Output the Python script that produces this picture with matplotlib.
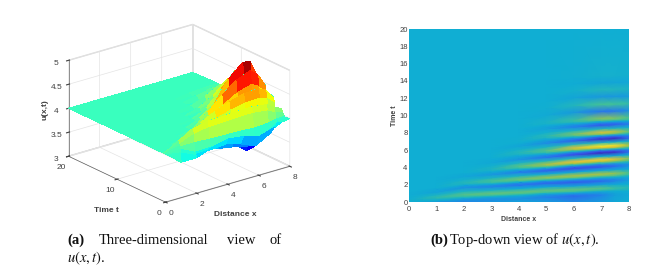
import numpy as np
import matplotlib
matplotlib.use('Agg')
import matplotlib.pyplot as plt
from matplotlib.colors import LinearSegmentedColormap

plt.rcParams['font.family'] = ['Liberation Sans', 'DejaVu Sans']
plt.rcParams['mathtext.fontset'] = 'stix'

x = [0, 1, 2, 3, 4, 5, 6, 7, 7.5, 8]

# mesh lines that follow the ridges (R), troughs (T) and their flanks (f, g, h)
# t_* is the time of the line at each x, u_* is u - 4 on that line
t_bot = [0, 0, 0, 0, 0, 0, 0, 0, 0, 0]
u_bot = [0, -.26, -.26, -.14, -.06, -.10, -.20, -.10, -.03, 0]
t_T0 = [.1, .15, .2, .3, .4, .6, .7, .85, .88, .9]
u_T0 = [0, -.05, -.20, -.20, -.18, -.28, -.42, -.26, -.08, -.03]
t_g1 = [.16, .26, .38, .49, .6, .8, .9, 1.05, 1.08, 1.1]
u_g1 = [0, .02, -.14, -.14, -.12, -.20, -.30, -.17, -.05, -.01]
t_f0 = [.22, .38, .55, .68, .8, 1.0, 1.1, 1.25, 1.29, 1.3]
u_f0 = [0, .06, .05, .02, 0, -.02, -.05, -.04, -.01, 0]
t_h1 = [.28, .49, .72, .86, 1.0, 1.2, 1.3, 1.45, 1.48, 1.5]
u_h1 = [0, .11, .21, .25, .25, .25, .25, .20, .12, .07]
t_R1 = [.35, .6, .9, 1.05, 1.2, 1.4, 1.5, 1.65, 1.68, 1.7]
u_R1 = [0, .15, .30, .35, .35, .35, .35, .30, .20, .12]
t_f1 = [.62, .9, 1.3, 1.42, 1.6, 1.8, 1.9, 2.05, 2.09, 2.12]
u_f1 = [0, .05, .07, .05, 0, -.03, -.07, -.06, -.03, 0]
t_T1 = [.9, 1.2, 1.7, 1.8, 2.0, 2.2, 2.3, 2.45, 2.5, 2.55]
u_T1 = [0, -.06, -.17, -.25, -.35, -.42, -.50, -.40, -.28, -.10]
t_g2 = [1.05, 1.38, 1.85, 1.98, 2.18, 2.38, 2.5, 2.66, 2.72, 2.78]
u_g2 = [0, -.04, -.12, -.18, -.25, -.30, -.35, -.28, -.20, -.07]
t_f2 = [1.2, 1.55, 2.0, 2.15, 2.35, 2.55, 2.7, 2.88, 2.93, 3.0]
u_f2 = [0, -.03, -.03, 0, .02, .03, .03, .03, .02, .02]
t_h2 = [1.35, 1.72, 2.15, 2.32, 2.52, 2.72, 2.9, 3.09, 3.15, 3.22]
u_h2 = [0, 0, .07, .18, .27, .34, .39, .39, .34, .20]
t_R2 = [1.5, 1.9, 2.3, 2.5, 2.7, 2.9, 3.1, 3.3, 3.38, 3.45]
u_R2 = [0, 0, .10, .25, .38, .48, .55, .55, .48, .28]
t_f3 = [1.8, 2.25, 2.65, 2.85, 3.08, 3.28, 3.5, 3.7, 3.78, 3.85]
u_f3 = [0, 0, .03, .06, .05, .02, -.02, -.02, -.02, -.02]
t_T2 = [2.1, 2.6, 3.0, 3.2, 3.45, 3.65, 3.9, 4.1, 4.18, 4.25]
u_T2 = [0, 0, -.04, -.12, -.28, -.45, -.60, -.55, -.40, -.20]
t_g3 = [2.25, 2.78, 3.15, 3.38, 3.63, 3.83, 4.1, 4.31, 4.39, 4.46]
u_g3 = [0, 0, -.03, -.08, -.20, -.32, -.42, -.39, -.28, -.14]
t_f4 = [2.4, 2.95, 3.3, 3.55, 3.82, 4.02, 4.3, 4.52, 4.6, 4.68]
u_f4 = [0, 0, -.02, -.02, .01, .05, .08, .12, .10, .07]
t_h3 = [2.55, 3.12, 3.45, 3.72, 4.0, 4.2, 4.5, 4.73, 4.81, 4.88]
u_h3 = [0, 0, 0, .05, .21, .39, .53, .60, .51, .32]
t_R3 = [2.7, 3.3, 3.6, 3.9, 4.2, 4.4, 4.7, 4.95, 5.03, 5.1]
u_R3 = [0, 0, 0, .07, .30, .55, .75, .85, .72, .45]
t_f5 = [3.05, 3.6, 3.95, 4.25, 4.58, 4.8, 5.1, 5.32, 5.4, 5.48]
u_f5 = [0, 0, 0, .02, .07, .10, .08, 0, -.05, 0]
t_T3 = [3.4, 3.9, 4.3, 4.6, 4.95, 5.2, 5.5, 5.7, 5.78, 5.85]
u_T3 = [0, 0, 0, -.03, -.15, -.35, -.60, -.85, -.82, -.45]
t_g4 = [3.55, 4.05, 4.48, 4.8, 5.16, 5.4, 5.7, 5.9, 5.98, 6.05]
u_g4 = [0, 0, 0, -.02, -.10, -.25, -.42, -.60, -.58, -.32]
t_f6 = [3.7, 4.2, 4.65, 5.0, 5.38, 5.6, 5.9, 6.1, 6.18, 6.25]
u_f6 = [0, 0, 0, -.01, -.03, -.03, .05, .05, .05, .05]
t_h4 = [3.85, 4.35, 4.82, 5.2, 5.58, 5.8, 6.1, 6.3, 6.38, 6.45]
u_h4 = [0, 0, 0, 0, .07, .21, .50, .67, .65, .39]
t_R4 = [4.0, 4.5, 5.0, 5.4, 5.8, 6.0, 6.3, 6.5, 6.58, 6.65]
u_R4 = [0, 0, 0, 0, .10, .30, .70, .95, .92, .55]
t_f7 = [4.35, 4.85, 5.35, 5.75, 6.15, 6.42, 6.7, 6.9, 6.98, 7.05]
u_f7 = [0, 0, 0, 0, .03, .05, .12, .08, .04, .05]
t_T4 = [4.7, 5.2, 5.7, 6.1, 6.5, 6.85, 7.1, 7.3, 7.38, 7.45]
u_T4 = [0, 0, 0, 0, -.04, -.20, -.45, -.80, -.85, -.45]
t_g5 = [4.88, 5.38, 5.88, 6.3, 6.7, 7.06, 7.3, 7.5, 7.58, 7.65]
u_g5 = [0, 0, 0, 0, -.03, -.14, -.32, -.57, -.60, -.32]
t_f8 = [5.05, 5.55, 6.05, 6.5, 6.9, 7.28, 7.5, 7.7, 7.78, 7.85]
u_f8 = [0, 0, 0, 0, 0, -.04, -.03, -.05, -.12, -.05]
t_h5 = [5.22, 5.72, 6.22, 6.7, 7.1, 7.5, 7.7, 7.9, 7.98, 8.05]
u_h5 = [0, 0, 0, 0, .01, .08, .28, .50, .44, .25]
t_R5 = [5.4, 5.9, 6.4, 6.9, 7.3, 7.7, 7.9, 8.1, 8.18, 8.25]
u_R5 = [0, 0, 0, 0, .01, .12, .40, .70, .62, .35]
t_f9 = [5.8, 6.3, 6.8, 7.3, 7.7, 8.1, 8.3, 8.5, 8.58, 8.65]
u_f9 = [0, 0, 0, 0, 0, .02, .06, .09, .07, .03]
t_T5 = [6.2, 6.7, 7.2, 7.7, 8.1, 8.5, 8.7, 8.9, 8.98, 9.05]
u_T5 = [0, 0, 0, 0, 0, -.07, -.28, -.52, -.48, -.30]
t_g6 = [6.4, 6.9, 7.4, 7.9, 8.3, 8.7, 8.9, 9.1, 9.18, 9.23]
u_g6 = [0, 0, 0, 0, 0, -.05, -.20, -.37, -.34, -.21]
t_f10 = [6.6, 7.1, 7.6, 8.1, 8.5, 8.9, 9.1, 9.3, 9.38, 9.42]
u_f10 = [0, 0, 0, 0, 0, -.01, -.04, -.04, -.03, -.01]
t_h6 = [6.8, 7.3, 7.8, 8.3, 8.7, 9.1, 9.3, 9.5, 9.56, 9.6]
u_h6 = [0, 0, 0, 0, 0, .04, .14, .32, .30, .20]
t_R6 = [7.0, 7.5, 8.0, 8.5, 8.9, 9.3, 9.5, 9.7, 9.75, 9.8]
u_R6 = [0, 0, 0, 0, 0, .05, .20, .45, .42, .28]
t_T6 = [7.8, 8.3, 8.8, 9.3, 9.7, 10.1, 10.4, 10.5, 10.55, 10.6]
u_T6 = [0, 0, 0, 0, 0, -.02, -.13, -.35, -.33, -.20]
t_R7 = [8.6, 9.1, 9.6, 10.1, 10.5, 10.9, 11.2, 11.3, 11.35, 11.4]
u_R7 = [0, 0, 0, 0, 0, .01, .10, .25, .24, .18]
t_T7 = [9.4, 9.9, 10.4, 10.9, 11.3, 11.7, 12.1, 12.2, 12.23, 12.25]
u_T7 = [0, 0, 0, 0, 0, 0, -.05, -.14, -.14, -.11]
t_R8 = [10.2, 10.7, 11.2, 11.7, 12.1, 12.5, 12.9, 13.0, 13.05, 13.1]
u_R8 = [0, 0, 0, 0, 0, 0, .03, .10, .09, .07]
t_T8 = [11.0, 11.5, 12.0, 12.5, 12.9, 13.3, 13.7, 13.8, 13.85, 13.9]
u_T8 = [0, 0, 0, 0, 0, 0, -.01, -.05, -.05, -.04]
t_R9 = [11.8, 12.3, 12.8, 13.3, 13.7, 14.1, 14.5, 14.6, 14.65, 14.7]
u_R9 = [0, 0, 0, 0, 0, 0, .01, .03, .03, .02]
t_top = [20, 20, 20, 20, 20, 20, 20, 20, 20, 20]
u_top = [0, 0, 0, 0, 0, 0, 0, 0, 0, 0]

T = np.array([t_bot, t_T0, t_g1, t_f0, t_h1, t_R1, t_f1, t_T1, t_g2, t_f2, t_h2, t_R2, t_f3, t_T2, t_g3, t_f4, t_h3,
              t_R3, t_f5, t_T3, t_g4, t_f6, t_h4, t_R4, t_f7, t_T4, t_g5, t_f8, t_h5, t_R5, t_f9, t_T5, t_g6, t_f10,
              t_h6, t_R6, t_T6, t_R7, t_T7, t_R8, t_T8, t_R9, t_top])
U = 4 + np.array([u_bot, u_T0, u_g1, u_f0, u_h1, u_R1, u_f1, u_T1, u_g2, u_f2, u_h2, u_R2, u_f3, u_T2, u_g3, u_f4, u_h3,
                  u_R3, u_f5, u_T3, u_g4, u_f6, u_h4, u_R4, u_f7, u_T4, u_g5, u_f8, u_h5, u_R5, u_f9, u_T5, u_g6, u_f10,
                  u_h6, u_R6, u_T6, u_R7, u_T7, u_R8, u_T8, u_R9, u_top])
X = np.tile(x, (len(T), 1))

parula = LinearSegmentedColormap.from_list('parula', [
    (0.0, (0.20, 0.13, 0.60)), (0.15, (0.25, 0.25, 0.90)), (0.33, (0.15, 0.47, 0.93)),
    (0.5, (0.06, 0.68, 0.83)), (0.62, (0.25, 0.76, 0.60)), (0.78, (0.68, 0.77, 0.25)),
    (0.9, (0.98, 0.75, 0.20)), (1.0, (0.98, 0.96, 0.10))])

fig = plt.figure(figsize=(6.64, 2.71), dpi=100)
grey = '#404040'

# 3D view, each facet takes the colour of its far edge since that is the side facing the viewer
ax3 = fig.add_axes([0.02, 0.13, 0.49, 0.88], projection='3d', proj_type='ortho')
ax3.view_init(elev=21.7, azim=-128)
ax3.set_box_aspect((1, 1, 0.655), zoom=1.0)
far = U.copy()
far[:-1] = U[1:]
far[:, :-1] = (far[:, :-1] + far[:, 1:]) / 2
jet_colors = plt.get_cmap('jet')(np.interp(far, [3.0, 4.0, 5.0], [0.05, 0.42, 1.0]))
ax3.plot_surface(X, T, U, facecolors=jet_colors, rstride=1, cstride=1,
                 linewidth=0, antialiased=False, shade=False)
ax3.set_xlim(0, 8)
ax3.set_ylim(0, 20)
ax3.set_zlim(3, 5)
ax3.set_xticks([0, 2, 4, 6, 8])
ax3.set_yticks([0, 10, 20])
ax3.set_zticks([3, 3.5, 4, 4.5, 5])
ax3.set_zticklabels(['3', '3.5', '4', '4.5', '5'])
ax3.tick_params(labelsize=6, colors=grey, pad=-3, length=2)
for a in (ax3.xaxis, ax3.yaxis, ax3.zaxis):
    a.set_pane_color((1, 1, 1, 1))
    a.pane.set_edgecolor('#d8d8d8')
    a.line.set_color('#606060')
    a.line.set_linewidth(0.5)
    a._axinfo['grid'].update(color='#e4e4e4', linewidth=0.5)

# top-down view
ax2 = fig.add_axes([409 / 664, 1 - 202.3 / 271, 219.7 / 664, 173.3 / 271])
ax2.pcolormesh(X, T, U, cmap=parula, vmin=3, vmax=5, shading='gouraud')
ax2.set_xlim(0, 8)
ax2.set_ylim(0, 20)
ax2.set_xticks(range(0, 9))
ax2.set_yticks(range(0, 21, 2))
ax2.tick_params(axis='x', labelsize=5.5, colors=grey, length=0, pad=3)
ax2.tick_params(axis='y', labelsize=5.5, colors=grey, length=0, pad=1)
ax2.set_xlabel('Distance x', fontsize=5, fontweight='bold', color=grey, labelpad=2)
ax2.set_ylabel('Time t', fontsize=5, fontweight='bold', color=grey, labelpad=1)
for s in ax2.spines.values():
    s.set_visible(False)

def px(xp, yp):
    return xp / 664, 1 - yp / 271

# labels of the 3D view sit where the reference has them
lab = dict(fontsize=6, fontweight='bold', color=grey, ha='center', va='center')
fig.text(*px(235, 214), 'Distance x', **lab)
fig.text(*px(106, 211), 'Time t', **lab)
fig.text(*px(45, 110), 'u(x,t)', rotation=90, **lab)

# captions, word by word so the first one stays justified
cap = dict(fontsize=10.5, family='Liberation Serif', color='#111111', va='center')
fig.text(*px(67, 240), '(a)', fontweight='bold', **cap)
fig.text(*px(99, 240), 'Three-dimensional', **cap)
fig.text(*px(226.5, 240), 'view', **cap)
fig.text(*px(269, 240), 'of', **cap)
fig.text(*px(67, 258), r'$u(x,t)$.', **cap)
fig.text(*px(430, 240), '(b)', fontweight='bold', **cap)
fig.text(*px(449, 240), r'Top-down view of $u(x,t)$.', **cap)

fig.savefig('out.png', dpi=100)
